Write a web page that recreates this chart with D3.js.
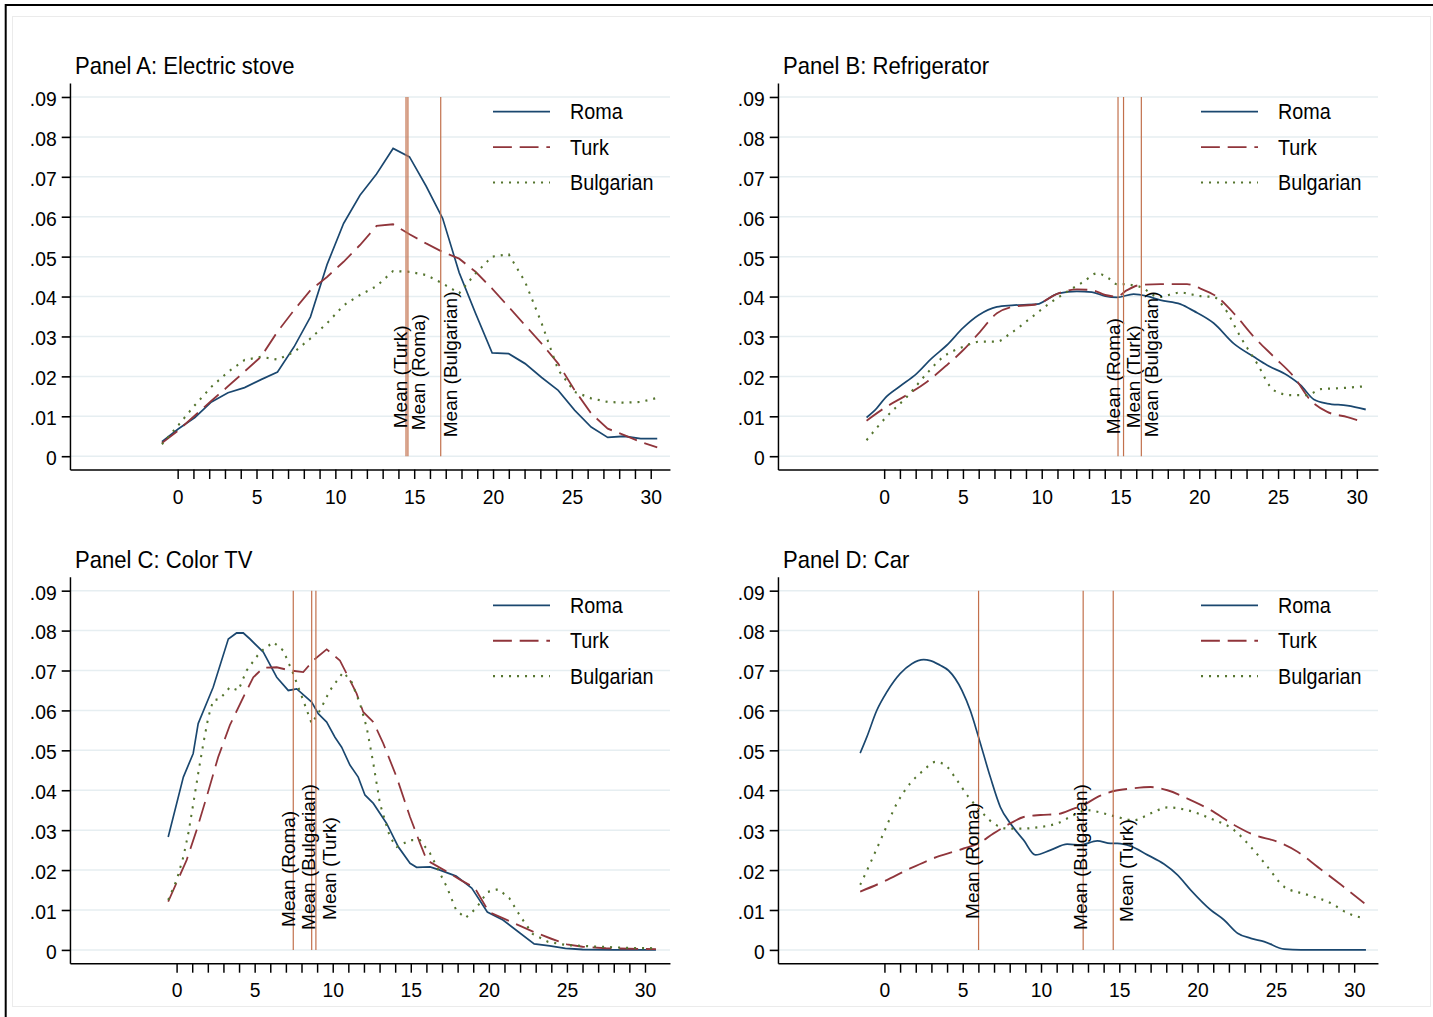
<!DOCTYPE html>
<meta charset="utf-8">
<head>
    <script src="https://d3js.org/d3.v7.min.js"></script>
    <style>
        body { margin: 0; background: #fff; }
        svg text { font-family: "Liberation Sans", Arial, Helvetica, sans-serif; fill: #000; }
    </style>
</head>
<body>
<div id="chart"></div>
<script>
    // ---- data ----
    const groups = ["Roma", "Turk", "Bulgarian"]
    const panelTitles = ["Panel A: Electric stove", "Panel B: Refrigerator", "Panel C: Color TV", "Panel D: Car"]
    const yTicks = [0, .01, .02, .03, .04, .05, .06, .07, .08, .09]
    const xTicks = [0, 1, 2, 3, 4, 5, 6, 7, 8, 9, 10, 11, 12, 13, 14, 15, 16, 17, 18, 19, 20, 21, 22, 23, 24, 25, 26, 27, 28, 29, 30]
    const xTickLabels = [0, 5, 10, 15, 20, 25, 30]

    // Panel A: electric stove (same age grid for all groups)
    const stoveAge = [-1, 0.05, 1.09, 2.14, 3.19, 4.24, 5.28, 6.33, 7.38, 8.42, 9.47, 10.52, 11.56, 12.61, 13.66, 14.7,
        15.75, 16.8, 17.85, 18.89, 19.94, 20.99, 22.03, 23.08, 24.13, 25.18, 26.22, 27.27, 28.32, 29.36, 30.41]
    const stoveRoma = [.0036, .0069, .0097, .0136, .0159, .0172, .0192, .0211, .0274, .0349, .048, .0583, .0654, .0707, .0771,
        .075, .0677, .0596, .046, .0358, .0259, .0257, .0232, .0197, .0165, .0115, .0073, .0047, .005, .0044, .0044]
    const stoveTurk = [.0033, .0065, .0102, .0139, .0175, .0212, .0249, .0312, .0366, .0416, .0449, .0487, .0529, .0577, .0581,
        .0556, .0533, .0512, .0495, .0462, .042, .0374, .0328, .0282, .0232, .0165, .0107, .0069, .0053, .0036, .0022]
    const stoveBulg = [.003, .0078, .0128, .0174, .0211, .0241, .0249, .0242, .0261, .0295, .0333, .0378, .0404, .0426, .0464,
        .0462, .0454, .0433, .0408, .0458, .05, .0506, .0437, .0333, .0216, .0161, .0145, .0136, .0134, .0136, .0146]
    const stoveMeans = [14.6, 14.48, 16.68]

    // Panel B: refrigerator  [age, density]
    const fridgeRoma = [[-1.12, .0097], [-0.48, .012], [0.04, .0145], [1.0, .0175], [2.06, .0207], [3.01, .0245], [3.97, .0278],
        [5.02, .0322], [5.98, .0353], [7.15, .0374], [8.1, .0378], [9.69, .0381], [11.06, .0408], [12.23, .0413], [13.18, .0411],
        [14.03, .0401], [14.77, .0398], [15.83, .0406], [16.68, .0401], [17.53, .0391], [18.8, .0381], [19.64, .0364],
        [20.92, .0333], [22.19, .0282], [23.46, .0249], [24.31, .0228], [25.58, .0203], [26.43, .0178], [27.27, .0142],
        [28.12, .0132], [29.4, .0127], [30.56, .0117]]
    const fridgeTurk = [[-1.12, .0089], [0.15, .0124], [1.42, .0153], [2.7, .0186], [3.97, .0228], [5.02, .0266], [5.98, .0307],
        [7.15, .0358], [8.1, .0374], [9.69, .0381], [11.06, .0408], [12.23, .0418], [13.18, .0416], [14.03, .0404], [14.77, .04],
        [15.41, .0416], [16.26, .0429], [17.53, .0431], [19.22, .0431], [20.07, .042], [21.13, .0399], [22.19, .0358],
        [23.46, .0299], [24.73, .0249], [26.0, .0199], [27.06, .014], [28.12, .0111], [29.4, .0098], [30.13, .0089]]
    const fridgeBulg = [[-1.12, .004], [0.15, .0099], [1.42, .0148], [2.7, .0207], [3.75, .0249], [5.02, .0274], [6.05, .0287],
        [7.15, .0287], [7.99, .0307], [9.26, .0345], [10.53, .0384], [11.6, .0412], [12.65, .0437], [13.5, .0458], [14.24, .0446],
        [14.77, .0431], [15.09, .0431], [16.26, .0424], [17.42, .0399], [18.8, .041], [20.07, .0401], [20.92, .0399],
        [21.55, .0374], [22.61, .0299], [23.67, .0232], [24.73, .0165], [25.79, .0153], [26.85, .0153], [27.7, .0168],
        [29.18, .0171], [30.45, .0175]]
    const fridgeMeans = [14.84, 15.19, 16.32]

    // Panel C: color TV
    const tvRoma = [[-0.54, .0283], [0.43, .0433], [1.06, .0492], [1.38, .0567], [2.34, .0658], [3.31, .0779], [3.84, .0794],
        [4.27, .0794], [4.7, .0779], [5.55, .0746], [6.41, .0683], [7.15, .065], [7.69, .0654], [8.65, .0621], [9.07, .0592],
        [9.61, .0571], [10.14, .0533], [10.57, .0508], [11.1, .0463], [11.63, .0433], [12.06, .0388], [12.6, .0367],
        [13.45, .0317], [14.2, .0258], [14.95, .0217], [15.37, .0207], [16.23, .0208], [16.87, .02], [17.9, .0185],
        [18.9, .0155], [19.9, .0095], [20.9, .0075], [21.9, .0045], [22.9, .0015], [23.9, .001], [24.9, .0004], [26, .0001],
        [28, 0], [30.7, 0]]
    const tvTurk = [[-0.54, .0121], [0.64, .0225], [1.28, .03], [1.92, .0383], [2.66, .0483], [3.41, .0563], [4.27, .0633],
        [4.91, .0683], [5.55, .0707], [6.41, .0708], [7.26, .07], [8.11, .0696], [8.75, .0725], [9.61, .0753], [10.46, .0725],
        [10.89, .0692], [11.53, .0642], [11.95, .0596], [12.6, .0571], [13.24, .0517], [14.09, .0433], [14.95, .0333],
        [15.59, .0267], [16.02, .0225], [17.3, .0196], [18.2, .0175], [19.1, .0155], [20.0, .0095], [21.0, .0078], [22.0, .006],
        [23.0, .0043], [24.0, .0028], [25.0, .0014], [26.0, .0008], [27.5, .0004], [30.7, .0002]]
    const tvBulg = [[-0.54, .0125], [0, .0175], [0.43, .0233], [0.75, .0292], [1.07, .0367], [1.38, .0442], [1.71, .0517],
        [2.03, .0583], [2.34, .0625], [2.77, .0629], [3.41, .0658], [3.95, .065], [4.48, .07], [5.34, .0746], [6.19, .0771],
        [6.83, .075], [7.47, .0692], [8.11, .0625], [8.65, .0567], [9.18, .06], [9.82, .065], [10.67, .0696], [11.21, .0671],
        [11.74, .0617], [12.17, .0558], [12.6, .0467], [13.02, .0367], [13.66, .0283], [14.09, .0258], [14.95, .0275],
        [15.59, .0275], [16.23, .0242], [17.3, .0158], [17.9, .01], [18.5, .008], [19.2, .0105], [19.9, .0145], [20.6, .0152],
        [21.3, .013], [22.0, .0085], [22.8, .004], [23.8, .002], [25.0, .0012], [27.0, .0008], [29.0, .0005], [30.7, .0004]]
    const tvMeans = [7.47, 8.92, 8.65]

    // Panel D: car
    const carRoma = [[-1.55, .0493], [-1.13, .0533], [-0.49, .06], [0.15, .0646], [1.0, .0692], [1.75, .0717], [2.5, .0727],
        [2.92, .0725], [3.56, .0713], [4.09, .07], [4.95, .065], [5.48, .06], [6.01, .0533], [6.76, .0433], [7.4, .0358],
        [8.04, .0317], [8.89, .0275], [9.64, .0238], [10.6, .025], [11.67, .0265], [12.52, .0263], [13.59, .0273],
        [14.44, .0267], [14.87, .0267], [15.72, .026], [16.79, .0238], [17.85, .0215], [18.71, .0188], [19.56, .015],
        [20.84, .01], [21.69, .0075], [22.55, .0042], [23.4, .0029], [24.25, .0021], [25.53, .0002], [26.6, 0], [30.75, 0]]
    const carTurk = [[-1.55, .0146], [-0.06, .0171], [1.64, .0204], [3.35, .0233], [5.05, .0254], [6.01, .0267], [6.97, .0292],
        [8.04, .0317], [8.89, .0333], [9.96, .0338], [11.03, .034], [12.09, .0354], [12.73, .0363], [13.59, .0383],
        [14.65, .0398], [15.72, .0404], [17.0, .0408], [18.07, .04], [19.35, .0379], [20.84, .035], [22.33, .0313],
        [23.61, .0288], [25.1, .0271], [26.38, .0246], [27.66, .0208], [29.16, .0163], [30.65, .0117]]
    const carBulg = [[-1.55, .0163], [-0.91, .0217], [-0.06, .0292], [0.79, .0367], [1.64, .0417], [2.5, .045], [3.24, .0471],
        [3.88, .0463], [4.63, .0425], [5.37, .0383], [6.01, .0354], [6.97, .0317], [7.83, .0304], [8.89, .0304], [9.96, .0308],
        [11.03, .0317], [12.09, .0338], [12.95, .035], [14.01, .0342], [14.87, .0333], [15.93, .0325], [17.0, .0342],
        [18.07, .0357], [19.35, .035], [20.84, .0329], [22.33, .03], [23.4, .0258], [24.47, .0208], [25.53, .0158],
        [27.02, .0138], [28.52, .0117], [29.58, .0092], [30.65, .0079]]
    const carMeans = [6.01, 14.61, 12.69]

    // ---- layout ----
    const SX = 0.92          // the picture is slightly squeezed horizontally
    const W = 1433, H = 1017
    const plotW = 600, plotH = 386.5
    const yDomain = [-0.00333, 0.0935]

    const panels = [
        { series: [d3.zip(stoveAge, stoveRoma), d3.zip(stoveAge, stoveTurk), d3.zip(stoveAge, stoveBulg)],
          means: stoveMeans, left: 70, top: 83, xDom: [-6.83, 31.22], curve: d3.curveLinear,
          labels: [{ dx: 17, lift: 26 }, { dx: 1, lift: 28 }, { dx: 16, lift: 19 }] },
        { series: [fridgeRoma, fridgeTurk, fridgeBulg],
          means: fridgeMeans, left: 778, top: 83, xDom: [-6.74, 31.34], curve: d3.curveMonotoneX,
          labels: [{ dx: 2, lift: 22 }, { dx: 16, lift: 28 }, { dx: 17, lift: 19 }] },
        { series: [tvRoma, tvTurk, tvBulg],
          means: tvMeans, left: 70, top: 576.7, xDom: [-6.83, 31.6], curve: d3.curveLinear,
          labels: [{ dx: 2, lift: 23 }, { dx: 20, lift: 30 }, { dx: 3, lift: 20 }] },
        { series: [carRoma, carTurk, carBulg],
          means: carMeans, left: 778, top: 576.7, xDom: [-6.8, 31.52], curve: d3.curveMonotoneX,
          labels: [{ dx: 0, lift: 31 }, { dx: 20, lift: 28 }, { dx: 4, lift: 20 }] }
    ]

    const colors = ["#1a476f", "#90353b", "#55752f"]
    const dashes = [null, "20.5,8.5", "2.2,6.5"]
    const widths = [1.8, 1.9, 2.2]
    const meanColor = "#c2704c"

    const svg = d3.select("#chart").append("svg")
        .attr("width", W)
        .attr("height", H)

    // outer frame
    svg.append("rect")
        .attr("x", 12.5).attr("y", 16.5)
        .attr("width", 1418).attr("height", 990)
        .attr("fill", "none").attr("stroke", "#ebebeb")
    svg.append("path")
        .attr("d", `M5.7,${H}V5H${W}`)
        .attr("fill", "none").attr("stroke", "#000").attr("stroke-width", 2)

    const root = svg.append("g").attr("transform", `scale(${SX},1)`)

    const yFmt = d => d === 0 ? "0" : d3.format(".2f")(d).replace(/^0/, "")

    panels.forEach((p, pi) => {
        const g = root.append("g")
        const x = d3.scaleLinear().domain(p.xDom).range([p.left / SX, (p.left + plotW) / SX])
        const y = d3.scaleLinear().domain(yDomain).range([p.top + plotH, p.top])

        // grid
        g.append("g").selectAll("line")
            .data(yTicks)
            .join("line")
            .attr("x1", x.range()[0]).attr("x2", x.range()[1])
            .attr("y1", d => y(d)).attr("y2", d => y(d))
            .attr("stroke", "#e6eef1")
            .attr("stroke-width", 1.5)

        // density curves
        p.series.forEach((s, i) => {
            g.append("path")
                .datum(s)
                .attr("fill", "none")
                .attr("stroke", colors[i])
                .attr("stroke-width", widths[i])
                .attr("stroke-dasharray", dashes[i])
                .attr("d", d3.line()
                    .curve(p.curve)
                    .x(d => x(d[0]))
                    .y(d => y(d[1])))
        })

        // mean lines + labels
        p.means.forEach((m, i) => {
            g.append("line")
                .attr("x1", x(m)).attr("x2", x(m))
                .attr("y1", y(.09)).attr("y2", y(0))
                .attr("stroke", meanColor)
                .attr("stroke-width", 1.3)
            g.append("text")
                .attr("transform", `translate(${x(m) + p.labels[i].dx / SX},${y(0) - p.labels[i].lift}) rotate(-90)`)
                .attr("font-size", 19)
                .text(`Mean (${groups[i]})`)
        })

        // axes
        const leftAxis = d3.axisLeft(y)
            .tickValues(yTicks)
            .tickFormat(yFmt)
            .tickSize(9)
            .tickSizeOuter(0)
            .tickPadding(5.5)
        const ga = g.append("g")
            .attr("transform", `translate(${x.range()[0]},0)`)
            .call(leftAxis)
        ga.selectAll("text").attr("font-size", 21).attr("dy", "0.4em")

        const bottomAxis = d3.axisBottom(x)
            .tickValues(xTicks)
            .tickFormat(d => xTickLabels.includes(d) ? d : "")
            .tickSize(9.5)
            .tickSizeOuter(0)
            .tickPadding(9.6)
        const gb = g.append("g")
            .attr("transform", `translate(0,${p.top + plotH})`)
            .call(bottomAxis)
        gb.selectAll("text").attr("font-size", 21)

        g.selectAll(".domain, .tick line")
            .attr("stroke", "#000")
            .attr("stroke-width", 1.6)
        g.selectAll(".tick text").attr("font-family", null).attr("fill", "#000")
        ga.attr("font-family", null)
        gb.attr("font-family", null)

        // legend
        groups.forEach((name, i) => {
            const ly = p.top + 28.7 + i * 35.4
            g.append("line")
                .attr("x1", (p.left + 423) / SX).attr("x2", (p.left + 480) / SX)
                .attr("y1", ly).attr("y2", ly)
                .attr("stroke", colors[i])
                .attr("stroke-width", widths[i])
                .attr("stroke-dasharray", dashes[i])
            g.append("text")
                .attr("x", (p.left + 500) / SX)
                .attr("y", ly + 7.7)
                .attr("font-size", 21.5)
                .text(name)
        })

        // panel title
        g.append("text")
            .attr("x", (p.left + 5) / SX)
            .attr("y", p.top - 9)
            .attr("font-size", 24)
            .text(panelTitles[pi])
    })
</script>
</body>
